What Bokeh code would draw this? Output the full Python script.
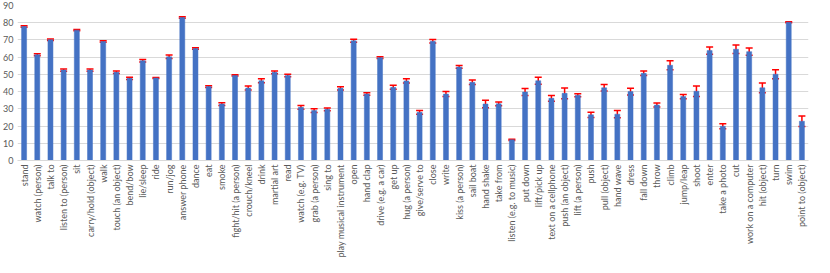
import math
from bokeh.plotting import figure
from bokeh.models import ColumnDataSource, Whisker, TeeHead, FactorRange, Range1d, FixedTicker
from bokeh.embed import file_html
from bokeh.resources import INLINE

categories = [
    "stand", "watch (person)", "talk to", "listen to (person)", "sit",
    "carry/hold (object)", "walk", "touch (an object)", "bend/bow", "lie/sleep",
    "ride", "run/jog", "answer phone", "dance", "eat",
    "smoke", "fight/hit (a person)", "crouch/kneel", "drink", "martial art",
    "read", "watch (e.g. TV)", "grab (a person)", "sing to", "play musical instrument",
    "open", "hand clap", "drive (e.g. a car)", "get up", "hug (a person)",
    "give/serve to", "close", "write", "kiss (a person)", "sail boat",
    "hand shake", "take from", "listen (e.g. to music)", "put down", "lift/pick up",
    "text on a cellphone", "push (an object)", "lift (a person)", "push", "pull (object)",
    "hand wave", "dress", "fall down", "throw", "climb",
    "jump/leap", "shoot", "enter", "take a photo", "cut",
    "work on a computer", "hit (object)", "turn", "swim", "point to (object)",
]

means = [
    77.8, 61.4, 70.1, 52.5, 75.7,
    52.5, 69.1, 51.2, 47.7, 57.9,
    47.9, 60.2, 83.0, 65.0, 42.9,
    32.8, 49.4, 42.1, 46.3, 51.2,
    49.4, 30.9, 29.0, 29.7, 41.9,
    69.5, 38.6, 59.7, 42.5, 46.2,
    28.0, 69.2, 38.6, 54.3, 45.4,
    32.8, 32.9, 12.0, 39.8, 46.3,
    36.1, 39.0, 37.9, 26.5, 42.2,
    26.9, 40.0, 50.6, 32.2, 55.3,
    37.1, 40.2, 63.8, 19.9, 64.6,
    63.2, 42.2, 50.1, 80.3, 22.8,
]

errors = [
    0.4, 0.6, 0.4, 0.7, 0.4,
    0.7, 0.4, 0.7, 0.6, 0.7,
    0.3, 1.0, 0.4, 0.4, 0.5,
    0.8, 0.4, 1.2, 1.2, 0.8,
    0.7, 1.1, 1.1, 0.8, 0.9,
    0.9, 0.7, 0.5, 1.2, 1.2,
    1.1, 1.0, 1.5, 0.8, 1.3,
    2.2, 1.1, 0.4, 2.0, 2.0,
    1.7, 3.1, 0.9, 1.5, 1.9,
    2.1, 2.0, 1.3, 1.2, 2.6,
    1.2, 3.0, 2.1, 1.5, 2.5,
    2.1, 2.8, 2.6, 0.3, 3.1,
]

y_ticks = [0, 10, 20, 30, 40, 50, 60, 70, 80, 90]

source = ColumnDataSource(data=dict(
    cat=categories,
    mean=means,
    upper=[m + e for m, e in zip(means, errors)],
    lower=[m - e for m, e in zip(means, errors)],
))

p = figure(
    x_range=FactorRange(*categories, range_padding=0),
    y_range=Range1d(0, 90),
    frame_width=791, frame_height=155,
    output_backend="svg", toolbar_location=None,
    min_border_left=17, min_border_right=6, min_border_top=5, min_border_bottom=90,
)
p.outline_line_color = None
p.background_fill_color = "white"
p.border_fill_color = "white"

p.vbar(x="cat", top="mean", width=0.38, source=source,
       fill_color="#4472C4", line_color="#4472C4", line_width=0.5)

w = Whisker(base="cat", upper="upper", lower="lower", source=source,
            line_color="#FF0000", line_width=1.5,
            upper_head=TeeHead(size=7, line_color="#FF0000", line_width=1.5),
            lower_head=TeeHead(size=7, line_color="#FF0000", line_width=1.5))
p.add_layout(w)

p.yaxis.ticker = FixedTicker(ticks=y_ticks)
p.ygrid.grid_line_color = "#D9D9D9"
p.ygrid.grid_line_width = 1
p.xgrid.grid_line_color = None

for ax in (p.xaxis[0], p.yaxis[0]):
    ax.major_label_text_font = "Lato"
    ax.major_label_text_font_size = "9px"
    ax.major_label_text_color = "#595959"
    ax.major_tick_line_color = None
    ax.minor_tick_line_color = None
    ax.major_tick_out = 0
    ax.major_tick_in = 0
    ax.minor_tick_out = 0
    ax.minor_tick_in = 0

p.yaxis.axis_line_color = None
p.yaxis.major_label_standoff = 4
p.xaxis.axis_line_color = "#D9D9D9"
p.xaxis.major_label_orientation = math.pi / 2
p.xaxis.major_label_standoff = 4

open("out.html", "w").write(file_html(p, INLINE))
